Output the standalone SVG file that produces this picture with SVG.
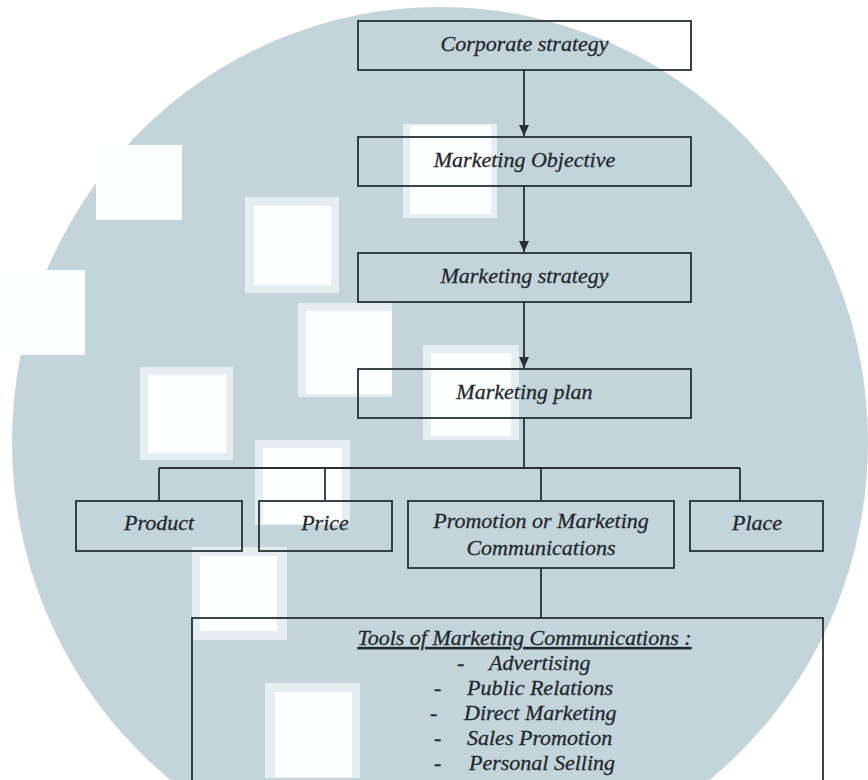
<svg xmlns="http://www.w3.org/2000/svg" width="868" height="780" viewBox="0 0 868 780">
  <defs>
    <style>
      .bg { fill: #c4d4db; }
      .cut { fill: #fdfefe; }
      .halo { fill: #e6eef1; }
      .hole { fill: #fdfefe; }
      .box { fill: none; stroke: #263035; stroke-width: 1.8; }
      .conn { fill: none; stroke: #263035; stroke-width: 1.8; }
      .lbl { font-style: italic; font-size: 22px; fill: #1f282c; stroke: #1f282c; stroke-width: 0.3; text-anchor: middle; }
      .item { font-style: italic; font-size: 22px; fill: #1f282c; stroke: #1f282c; stroke-width: 0.3; }
    </style>
    <marker id="arrow" viewBox="0 0 11 10" refX="11" refY="5" markerWidth="11" markerHeight="10" markerUnits="userSpaceOnUse" orient="auto">
      <path d="M0,0 L11,5 L0,10 Z" fill="#263035"/>
    </marker>
  </defs>

  <rect x="0" y="0" width="868" height="780" fill="#ffffff"/>

  <g id="watermark">
    <ellipse class="bg" cx="440" cy="442" rx="428" ry="435"/>
    <rect class="cut" x="96" y="145" width="86" height="75"/>
    <rect class="cut" x="0" y="270" width="85" height="85"/>
    <rect class="halo" x="245" y="197" width="94" height="96"/>
    <rect class="hole" x="254" y="206" width="77" height="79"/>
    <rect class="halo" x="403" y="124" width="94" height="94"/>
    <rect class="hole" x="410" y="126" width="81" height="88"/>
    <rect class="halo" x="298" y="303" width="94" height="94"/>
    <rect class="hole" x="306" y="311" width="86" height="83"/>
    <rect class="halo" x="423" y="345" width="96" height="95"/>
    <rect class="hole" x="431" y="353" width="80" height="83"/>
    <rect class="halo" x="140" y="367" width="93" height="93"/>
    <rect class="hole" x="148" y="375" width="78" height="78"/>
    <rect class="halo" x="255" y="440" width="95" height="85"/>
    <rect class="hole" x="263" y="448" width="79" height="76"/>
    <rect class="halo" x="192" y="547" width="95" height="93"/>
    <rect class="hole" x="200" y="556" width="77" height="75"/>
    <rect class="halo" x="265" y="683" width="95" height="95"/>
    <rect class="hole" x="275" y="692" width="77" height="85"/>
  </g>

  <g id="connectors">
    <line class="conn" x1="524" y1="70" x2="524" y2="136" marker-end="url(#arrow)"/>
    <line class="conn" x1="524" y1="186" x2="524" y2="252" marker-end="url(#arrow)"/>
    <line class="conn" x1="524" y1="302" x2="524" y2="368" marker-end="url(#arrow)"/>
    <line class="conn" x1="524" y1="418" x2="524" y2="468"/>
    <line class="conn" x1="159" y1="468" x2="740" y2="468"/>
    <line class="conn" x1="159" y1="468" x2="159" y2="501"/>
    <line class="conn" x1="325" y1="468" x2="325" y2="501"/>
    <line class="conn" x1="541" y1="468" x2="541" y2="501"/>
    <line class="conn" x1="740" y1="468" x2="740" y2="501"/>
    <line class="conn" x1="541" y1="568" x2="541" y2="618"/>
  </g>

  <g id="nodes" font-family="Liberation Serif, DejaVu Serif, serif">
  <g id="corporate-strategy">
    <rect class="box" x="358" y="21" width="333" height="49"/>
    <text class="lbl" x="524.5" y="51">Corporate strategy</text>
  </g>
  <g id="marketing-objective">
    <rect class="box" x="358" y="137" width="333" height="49"/>
    <text class="lbl" x="524.5" y="167">Marketing Objective</text>
  </g>
  <g id="marketing-strategy">
    <rect class="box" x="358" y="253" width="333" height="49"/>
    <text class="lbl" x="524.5" y="283">Marketing strategy</text>
  </g>
  <g id="marketing-plan">
    <rect class="box" x="358" y="369" width="333" height="49"/>
    <text class="lbl" x="524.5" y="399">Marketing plan</text>
  </g>
  <g id="product">
    <rect class="box" x="76" y="501" width="166" height="50"/>
    <text class="lbl" x="159" y="530">Product</text>
  </g>
  <g id="price">
    <rect class="box" x="259" y="501" width="133" height="50"/>
    <text class="lbl" x="325" y="530">Price</text>
  </g>
  <g id="promotion">
    <rect class="box" x="408" y="501" width="266" height="67"/>
    <text class="lbl" x="541" y="528">Promotion or Marketing</text>
    <text class="lbl" x="541" y="555">Communications</text>
  </g>
  <g id="place">
    <rect class="box" x="690" y="501" width="133" height="50"/>
    <text class="lbl" x="757" y="530">Place</text>
  </g>
  <g id="tools">
    <rect class="box" x="192" y="618" width="631" height="200"/>
    <text class="lbl" x="524.5" y="645" text-decoration="underline">Tools of Marketing Communications :</text>
    <text class="item" x="457" y="670">-</text>
    <text class="item" x="489" y="670">Advertising</text>
    <text class="item" x="434" y="695">-</text>
    <text class="item" x="467" y="695">Public Relations</text>
    <text class="item" x="430" y="720">-</text>
    <text class="item" x="464" y="720">Direct Marketing</text>
    <text class="item" x="434" y="745">-</text>
    <text class="item" x="467" y="745">Sales Promotion</text>
    <text class="item" x="434" y="770">-</text>
    <text class="item" x="469" y="770">Personal Selling</text>
  </g>
  </g>
</svg>
